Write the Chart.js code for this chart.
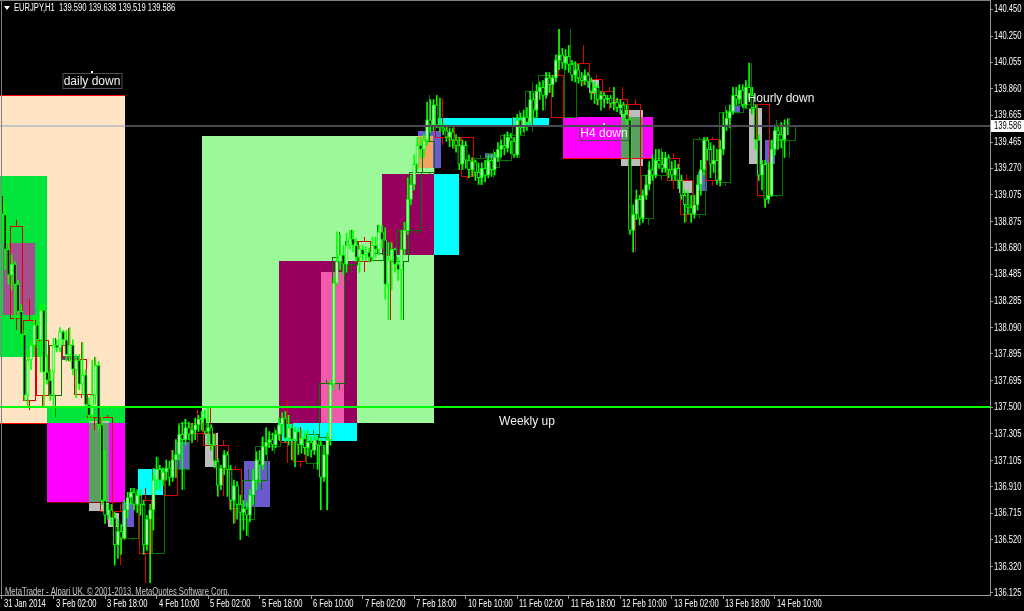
<!DOCTYPE html>
<html>
<head>
<meta charset="utf-8">
<title>EURJPY,H1</title>
<script src="https://cdn.jsdelivr.net/npm/chart.js@4.4.0/dist/chart.umd.min.js"></script>
<style>
  html, body { margin: 0; padding: 0; background: #000; }
  #wrap { width: 1024px; height: 611px; position: relative; }
</style>
</head>
<body>
<div id="wrap"><canvas id="chart"></canvas></div>
<script>
// EURJPY H1 bars, bar 0 = 31 Jan 2014
const opens = [
  139.07,138.93,138.67,138.48,138.56,138.41,138.21,138.04,137.59,137.85,
  137.96,138.11,138.00,138.22,137.76,137.70,137.76,137.96,137.94,138.06,
  138.00,137.89,137.96,137.78,137.85,137.67,137.74,137.52,137.44,137.59,
  137.81,137.37,136.81,136.70,136.74,136.68,136.48,136.58,136.53,136.74,
  136.83,136.87,136.78,136.85,136.78,136.48,136.67,136.74,136.96,137.04,
  136.96,137.02,137.05,136.98,137.11,137.15,137.30,137.26,137.35,137.30,
  137.33,137.37,137.41,137.42,137.32,137.35,137.22,137.10,136.92,137.05,
  137.15,137.04,136.81,136.92,136.78,136.72,136.75,136.70,136.85,136.96,
  137.11,137.07,137.21,137.24,137.26,137.22,137.30,137.37,137.42,137.27,
  137.35,137.26,137.32,137.22,137.27,137.20,137.24,137.18,137.26,137.22,
  136.98,137.15,137.26,137.67,138.42,138.58,138.63,138.56,138.70,138.75,
  138.70,138.61,138.67,138.63,138.65,138.61,138.70,138.67,138.80,138.74,
  138.41,138.59,138.67,138.56,138.52,138.67,138.81,139.04,139.15,139.30,
  139.44,139.41,139.48,139.63,139.59,139.74,139.59,139.57,139.55,139.50,
  139.54,139.48,139.44,139.30,139.44,139.33,139.26,139.32,139.24,139.20,
  139.27,139.22,139.33,139.26,139.35,139.41,139.44,139.42,139.50,139.47,
  139.37,139.63,139.57,139.65,139.61,139.78,139.70,139.84,139.87,139.81,
  139.94,139.89,139.94,140.07,140.11,140.05,140.10,140.04,139.96,140.00,
  139.94,139.92,139.96,139.91,139.84,139.87,139.78,139.81,139.78,139.79,
  139.75,139.76,139.72,139.74,139.67,139.63,138.81,138.93,139.04,138.90,
  139.07,139.15,139.26,139.22,139.33,139.30,139.27,139.35,139.26,139.22,
  139.27,139.18,139.07,139.00,138.98,138.93,139.00,139.15,139.26,139.48,
  139.41,139.30,139.33,139.18,139.41,139.59,139.64,139.69,139.81,139.78,
  139.85,139.74,139.87,139.81,139.72,139.48,139.22,139.30,139.04,139.07,
  139.41,139.55,139.52,139.48,139.590
];
const highs = [
  139.12,139.00,138.74,138.63,138.58,138.44,138.26,138.07,137.92,138.00,
  138.18,138.16,138.26,138.26,137.89,137.78,138.01,138.00,138.09,138.07,
  138.07,138.09,138.00,137.89,137.89,137.98,137.78,137.57,137.85,137.87,
  137.84,137.44,137.18,136.78,136.78,136.72,136.67,136.63,136.81,136.87,
  136.90,136.90,136.89,136.89,136.81,136.70,136.78,137.00,137.13,137.07,
  137.05,137.11,137.10,137.18,137.26,137.37,137.39,137.41,137.39,137.38,
  137.42,137.44,137.47,137.48,137.50,137.37,137.30,137.12,137.07,137.18,
  137.17,137.07,136.96,136.95,136.85,136.81,136.80,136.89,137.04,137.17,
  137.18,137.28,137.35,137.32,137.31,137.33,137.42,137.46,137.47,137.44,
  137.37,137.35,137.35,137.33,137.32,137.33,137.28,137.30,137.28,137.26,
  137.22,137.31,137.70,138.46,138.80,138.78,138.70,138.79,138.81,138.81,
  138.75,138.70,138.70,138.69,138.68,138.76,138.76,138.85,138.85,138.83,
  138.72,138.72,138.68,138.61,138.81,138.87,139.20,139.22,139.37,139.50,
  139.50,139.52,139.76,139.78,139.78,139.81,139.79,139.61,139.59,139.57,
  139.57,139.52,139.50,139.48,139.47,139.37,139.35,139.33,139.31,139.31,
  139.33,139.37,139.37,139.39,139.46,139.48,139.52,139.54,139.53,139.50,
  139.67,139.68,139.70,139.72,139.84,139.83,139.89,139.91,139.92,139.98,
  139.98,139.96,140.11,140.30,140.16,140.15,140.18,140.07,140.06,140.04,
  139.98,140.00,139.98,139.94,139.91,139.89,139.84,139.83,139.81,139.81,
  139.87,139.79,139.78,139.76,139.74,139.65,139.00,139.11,139.07,139.11,
  139.22,139.32,139.37,139.41,139.41,139.39,139.39,139.37,139.32,139.33,
  139.30,139.22,139.11,139.10,139.07,139.07,139.22,139.33,139.50,139.50,
  139.46,139.44,139.41,139.48,139.68,139.70,139.74,139.87,139.87,139.89,
  139.89,139.92,140.05,139.87,139.74,139.52,139.33,139.33,139.31,139.48,
  139.59,139.59,139.61,139.63,139.638
];
const lows = [
  138.74,138.52,138.41,138.37,138.15,138.16,137.96,137.55,137.50,137.78,
  137.92,137.94,137.76,137.50,137.67,137.55,137.43,137.91,137.91,137.96,
  137.84,137.84,137.74,137.57,137.63,137.59,137.48,137.39,137.41,137.52,
  137.33,136.78,136.64,136.67,136.63,136.33,136.38,136.41,136.52,136.68,
  136.78,136.74,136.72,136.70,136.41,136.44,136.20,136.59,136.89,136.89,
  136.92,136.96,136.92,136.95,136.98,137.11,136.89,137.22,137.26,137.24,
  137.26,137.32,137.33,137.30,137.22,137.18,137.05,136.84,136.89,137.00,
  136.84,136.74,136.64,136.67,136.52,136.59,136.55,136.65,136.78,136.89,
  136.94,137.04,137.15,137.20,137.18,137.20,137.26,137.30,137.24,137.22,
  137.11,137.06,137.15,137.16,137.15,137.14,137.13,137.15,137.04,136.74,
  136.95,136.74,137.22,137.63,138.41,138.52,138.48,138.50,138.67,138.65,
  138.58,138.50,138.58,138.59,138.58,138.58,138.61,138.63,138.68,138.30,
  138.15,138.37,138.50,138.44,138.15,138.63,138.78,139.00,139.11,139.26,
  139.35,139.35,139.44,139.54,139.55,139.57,139.54,139.52,139.47,139.43,
  139.42,139.39,139.26,139.26,139.27,139.20,139.21,139.18,139.15,139.15,
  139.17,139.20,139.21,139.22,139.32,139.35,139.37,139.39,139.38,139.35,
  139.35,139.52,139.54,139.55,139.59,139.64,139.65,139.78,139.70,139.79,
  139.83,139.80,139.91,140.00,140.01,140.00,139.98,139.92,139.91,139.90,
  139.88,139.89,139.87,139.78,139.75,139.74,139.70,139.72,139.75,139.72,
  139.70,139.69,139.67,139.63,139.59,138.78,138.65,138.89,138.85,138.87,
  139.04,139.11,139.18,139.20,139.27,139.24,139.24,139.20,139.18,139.18,
  139.12,139.04,138.87,138.93,138.87,138.90,138.96,139.07,139.22,139.33,
  139.20,139.24,139.15,139.14,139.37,139.55,139.57,139.67,139.74,139.75,
  139.72,139.72,139.78,139.67,139.41,139.18,139.11,138.98,139.01,139.06,
  139.37,139.41,139.42,139.35,139.519
];
const closes = [
  138.93,138.67,138.48,138.56,138.41,138.21,138.04,137.59,137.85,137.96,
  138.11,138.00,138.22,137.76,137.70,137.59,137.96,137.94,138.06,138.00,
  137.89,137.96,137.78,137.85,137.67,137.74,137.52,137.44,137.59,137.81,
  137.37,136.81,136.70,136.74,136.68,136.48,136.58,136.53,136.74,136.83,
  136.87,136.78,136.85,136.78,136.48,136.67,136.74,136.96,137.04,136.96,
  137.02,137.05,136.98,137.11,137.15,137.30,137.26,137.35,137.30,137.33,
  137.37,137.41,137.42,137.32,137.35,137.22,137.10,136.92,137.05,137.15,
  137.04,136.81,136.92,136.78,136.72,136.75,136.70,136.85,136.96,137.11,
  137.07,137.21,137.24,137.26,137.22,137.30,137.37,137.42,137.27,137.35,
  137.26,137.32,137.22,137.27,137.20,137.24,137.18,137.26,137.22,136.98,
  137.15,137.26,137.67,138.42,138.58,138.63,138.56,138.70,138.75,138.70,
  138.61,138.67,138.63,138.65,138.61,138.70,138.67,138.80,138.74,138.41,
  138.59,138.67,138.56,138.52,138.67,138.81,139.04,139.15,139.30,139.44,
  139.41,139.48,139.63,139.59,139.74,139.59,139.57,139.55,139.50,139.54,
  139.48,139.44,139.30,139.44,139.33,139.26,139.32,139.24,139.20,139.27,
  139.22,139.33,139.26,139.35,139.41,139.44,139.42,139.50,139.47,139.37,
  139.63,139.57,139.65,139.61,139.78,139.70,139.84,139.87,139.81,139.94,
  139.89,139.94,140.07,140.11,140.05,140.10,140.04,139.96,140.00,139.94,
  139.92,139.96,139.91,139.84,139.87,139.78,139.81,139.78,139.79,139.75,
  139.76,139.72,139.74,139.67,139.63,138.81,138.93,139.04,138.90,139.07,
  139.15,139.26,139.22,139.33,139.30,139.27,139.35,139.26,139.22,139.27,
  139.18,139.07,139.00,138.98,138.93,139.00,139.15,139.26,139.48,139.41,
  139.30,139.33,139.18,139.41,139.59,139.64,139.69,139.81,139.78,139.85,
  139.74,139.87,139.81,139.72,139.48,139.22,139.30,139.04,139.07,139.41,
  139.55,139.52,139.48,139.58,139.586
];

// H4 candles, drawn as outline boxes over 4 H1 bars
const h4Start = [3,7,11,15,19,23,27,31,35,39,43,47,51,55,59,63,67,71,75,79,83,87,91,95,99,103,107,111,115,119,123,127,131,135,139,143,147,151,155,159,163,167,171,175,179,183,187,191,195,199,203,207,211,215,219,223,227,231,235,239,243];
const h4Open  = [138.84,138.15,138.00,137.59,137.96,137.86,137.60,137.43,136.73,136.53,136.81,136.42,137.05,137.04,137.38,137.31,137.22,137.04,136.67,136.96,137.21,137.38,137.24,137.09,137.28,137.68,138.56,138.73,138.59,138.63,138.58,138.81,139.24,139.58,139.50,139.50,139.22,139.28,139.33,139.52,139.65,139.84,139.96,139.65,140.05,139.93,139.84,139.78,139.75,138.90,139.22,139.35,139.18,138.93,139.49,139.17,139.69,139.72,139.75,139.07,139.48];
const h4High  = [138.89,138.30,138.07,138.01,138.09,137.98,137.87,137.44,136.78,136.90,136.90,137.13,137.18,137.41,137.48,137.50,137.26,137.07,137.04,137.28,137.35,137.55,137.35,137.33,137.70,138.80,138.81,138.76,138.85,138.83,138.87,139.37,139.81,139.79,139.59,139.50,139.37,139.41,139.54,139.70,139.91,139.98,140.30,140.30,140.18,139.96,139.87,139.87,139.78,139.30,139.42,139.38,139.22,139.50,139.50,139.74,139.89,140.05,139.75,139.63,139.64];
const h4Low   = [138.07,137.48,137.50,137.43,137.84,137.57,137.33,136.64,136.33,136.52,136.20,136.42,136.85,136.89,137.24,137.18,136.84,136.64,136.54,136.89,137.15,137.09,137.06,137.04,136.74,137.63,138.50,138.50,138.58,138.15,138.15,138.78,139.22,139.44,139.41,139.18,139.15,139.20,139.32,139.35,139.54,139.70,139.65,139.65,139.89,139.74,139.70,139.67,138.65,138.85,139.18,139.12,138.87,138.90,139.14,139.14,139.67,139.67,138.98,139.06,139.35];
const h4Close = [138.16,137.55,137.59,137.96,137.87,137.60,137.43,136.73,136.53,136.80,136.42,137.05,136.85,137.38,137.31,137.22,137.04,136.75,136.96,137.21,137.30,137.24,137.10,137.30,137.68,138.61,138.73,138.58,138.64,138.58,138.81,139.24,139.47,139.50,139.48,139.21,139.35,139.38,139.52,139.65,139.84,139.96,139.65,140.05,139.94,139.83,139.76,139.75,138.90,139.22,139.35,139.18,138.93,139.49,139.18,139.69,139.74,139.75,139.07,139.48,139.59];

// supply / demand zones (bar index range, price range)
const zoneFrom   = [-2, -2, 0.3, 14.0, 14.0, 27.0, 27.0, 18.3, 37.3, 32.9, 42.2, 54.3, 62.1, 63.0, 75.2, 86.0, 99.1, 86.0, 118.0, 134.2, 129.2, 129.2, 134.2, 150.0, 174.2, 192.2, 192.2, 182.3, 210.2, 216.1, 226.4, 232.0, 236.9];
const zoneTo     = [38.2, 14.0, 10.25, 38.2, 38.2, 33.2, 33.2, 24.2, 41.0, 36.3, 50.0, 58.1, 134.2, 67.1, 83.2, 110.2, 106.2, 110.2, 134.2, 141.9, 136.3, 133.9, 169.9, 154.3, 202.2, 199.1, 199.1, 185.4, 214.9, 218.9, 229.2, 236.0, 240.1];
const zoneTop    = [139.81, 139.21, 138.72, 137.51, 137.38, 137.40, 137.38, 137.88, 136.80, 136.72, 137.04, 137.24, 139.51, 137.31, 137.10, 138.58, 138.50, 137.38, 139.23, 139.23, 139.55, 139.51, 139.64, 139.38, 139.65, 139.70, 139.65, 139.93, 139.18, 139.24, 139.74, 139.72, 139.48];
const zoneBottom = [137.38, 137.87, 138.18, 137.38, 136.80, 136.73, 136.80, 137.85, 136.61, 136.61, 136.85, 137.04, 137.38, 137.06, 136.76, 137.38, 137.38, 137.25, 138.63, 138.63, 139.27, 139.27, 139.58, 139.35, 139.35, 139.29, 139.35, 139.83, 139.09, 139.10, 139.69, 139.30, 139.30];
const zoneColors = ['#ffe4c4', '#00e43c', '#a4508f', '#00e43c', '#ff00ff', '#bdbdbd', '#5c9e62', '#50508a', '#6a5acd', '#bdbdbd', '#00ffff', '#6a5acd', '#9cf99a', '#bdbdbd', '#6a5acd', '#98005f', '#f05aaa', '#00ffff', '#98005f', '#00ffff', '#6a5acd', '#f4a460', '#00ffff', '#6a5acd', '#ff00ff', '#bdbdbd', '#5c9e62', '#bdbdbd', '#bdbdbd', '#6a5acd', '#6a5acd', '#bdbdbd', '#6a5acd'];

// zone edge lines
const edgeFrom  = [-2, -2, 14.0, 174.2];
const edgeTo    = [38.2, 14.0, 38.2, 202.2];
const edgePrice = [139.81, 137.38, 136.80, 139.35];
const edgeColors = ['#ff0000', '#ff0000', '#8b0000', '#ff0000'];

const weeklyLevel = 137.50;

const labelTexts = ['daily down', 'Weekly up', 'H4 down', 'Hourly down'];
const labelBar   = [28, 163, 187, 242];
const labelPrice = [139.92, 137.40, 139.53, 139.79];
const labelBoxed = [true, false, true, false];

const priceTicks = [140.450, 140.250, 140.055, 139.860, 139.665, 139.465, 139.270, 139.075, 138.875, 138.680, 138.485, 138.285, 138.090, 137.895, 137.695, 137.500, 137.305, 137.105, 136.910, 136.715, 136.520, 136.320, 136.125];
const timeTickBars = [0, 16, 32, 48, 64, 80, 96, 112, 128, 144, 160, 176, 192, 208, 224, 240];
const timeTickLabels = ['31 Jan 2014', '3 Feb 02:00', '3 Feb 18:00', '4 Feb 10:00', '5 Feb 02:00', '5 Feb 18:00', '6 Feb 10:00', '7 Feb 02:00', '7 Feb 18:00', '10 Feb 10:00', '11 Feb 02:00', '11 Feb 18:00', '12 Feb 10:00', '13 Feb 02:00', '13 Feb 18:00', '14 Feb 10:00'];

const UI_FONT = "10px 'Liberation Sans', Arial, sans-serif";
const SQUEEZE = 0.76;   // terminal font is much narrower than Liberation Sans
const AXIS_GREY = '#9a9a9a';
const last = closes.length - 1;

const bodies = opens.map((o, i) => ({ x: i, y: [o, closes[i]] }));
const wicks = lows.map((l, i) => ({ x: i, y: [l, highs[i]] }));

function narrowText(ctx, text, px, py, color) {
    ctx.save();
    ctx.translate(px, py);
    ctx.scale(SQUEEZE, 1);
    ctx.font = UI_FONT;
    ctx.textAlign = 'left';
    ctx.textBaseline = 'middle';
    ctx.fillStyle = color;
    ctx.fillText(text, 0, 0);
    ctx.restore();
}

function clipArea(ctx, area) {
    ctx.beginPath();
    ctx.rect(area.left, area.top, area.right - area.left, area.bottom - area.top);
    ctx.clip();
}

const mtObjects = {
    id: 'mtObjects',
    beforeDatasetsDraw(chart) {
        const { ctx, chartArea: area, scales: { x, y } } = chart;
        ctx.save();
        clipArea(ctx, area);

        for (let k = 0; k < zoneFrom.length; k++) {
            const l = Math.round(x.getPixelForValue(zoneFrom[k]));
            const r = Math.round(x.getPixelForValue(zoneTo[k]));
            const t = Math.round(y.getPixelForValue(zoneTop[k]));
            const b = Math.round(y.getPixelForValue(zoneBottom[k]));
            ctx.fillStyle = zoneColors[k];
            ctx.fillRect(l, t, r - l, b - t);
        }

        ctx.lineWidth = 1;
        for (let k = 0; k < edgeFrom.length; k++) {
            const py = Math.round(y.getPixelForValue(edgePrice[k])) + 0.5;
            ctx.strokeStyle = edgeColors[k];
            ctx.beginPath();
            ctx.moveTo(Math.round(x.getPixelForValue(edgeFrom[k])), py);
            ctx.lineTo(Math.round(x.getPixelForValue(edgeTo[k])), py);
            ctx.stroke();
        }

        // higher timeframe candles
        for (let k = 0; k < h4Start.length; k++) {
            const up = h4Close[k] >= h4Open[k];
            ctx.strokeStyle = up ? '#007800' : '#e00000';
            const l = Math.round(x.getPixelForValue(h4Start[k] - 0.5)) + 0.5;
            const r = Math.round(x.getPixelForValue(h4Start[k] + 3.5)) - 0.5;
            const t = Math.round(y.getPixelForValue(Math.max(h4Open[k], h4Close[k]))) + 0.5;
            const b = Math.round(y.getPixelForValue(Math.min(h4Open[k], h4Close[k]))) + 0.5;
            const cx = Math.round(x.getPixelForValue(h4Start[k] + 1.5)) + 0.5;
            ctx.beginPath();
            ctx.moveTo(cx, Math.round(y.getPixelForValue(h4High[k])));
            ctx.lineTo(cx, t);
            ctx.moveTo(cx, b);
            ctx.lineTo(cx, Math.round(y.getPixelForValue(h4Low[k])));
            ctx.stroke();
            ctx.strokeRect(l, t, r - l, b - t);
        }
        ctx.restore();
    },
    afterDatasetsDraw(chart) {
        const { ctx, chartArea: area, scales: { x, y } } = chart;
        ctx.save();
        clipArea(ctx, area);

        // weekly level
        ctx.strokeStyle = '#00ff00';
        ctx.lineWidth = 2;
        let py = Math.round(y.getPixelForValue(weeklyLevel));
        ctx.beginPath();
        ctx.moveTo(area.left, py);
        ctx.lineTo(area.right, py);
        ctx.stroke();

        // bid line
        py = Math.round(y.getPixelForValue(closes[last]));
        ctx.strokeStyle = '#4a4a52';
        ctx.beginPath();
        ctx.moveTo(area.left, py);
        ctx.lineTo(area.right, py);
        ctx.stroke();
        ctx.strokeStyle = '#c4c4c4';
        ctx.beginPath();
        ctx.moveTo(area.left, py);
        ctx.lineTo(Math.round(x.getPixelForValue(zoneTo[0])), py);
        ctx.stroke();

        // text objects
        ctx.font = "12px 'Liberation Sans', Arial, sans-serif";
        ctx.textAlign = 'center';
        ctx.textBaseline = 'middle';
        ctx.lineWidth = 1;
        for (let k = 0; k < labelTexts.length; k++) {
            const px = Math.round(x.getPixelForValue(labelBar[k]));
            const ty = Math.round(y.getPixelForValue(labelPrice[k]));
            if (labelBoxed[k]) {
                const w = Math.round(ctx.measureText(labelTexts[k]).width) + 2;
                ctx.strokeStyle = '#4b535c';
                ctx.strokeRect(px - w / 2 + 0.5, ty - 7.5, w, 15);
                ctx.fillStyle = '#ffffff';
                ctx.fillRect(px - 1, ty - 10, 2, 2);
            }
            ctx.fillStyle = '#f2f2f2';
            ctx.fillText(labelTexts[k], px, ty + 1);
        }
        ctx.restore();
    },
    afterDraw(chart) {
        const { ctx, chartArea: area, scales: { x, y } } = chart;
        ctx.save();
        // frame
        ctx.strokeStyle = '#808080';
        ctx.lineWidth = 1;
        ctx.beginPath();
        ctx.moveTo(area.left, 0.5);
        ctx.lineTo(area.right, 0.5);
        ctx.moveTo(1.5, 0);
        ctx.lineTo(1.5, area.bottom);
        ctx.stroke();

        // axis labels, placed on the scales' own ticks
        y.ticks.forEach(t => narrowText(ctx, t.value.toFixed(3), area.right + 4, Math.round(y.getPixelForValue(t.value)), '#ffffff'));
        x.ticks.forEach((t, i) => narrowText(ctx, timeTickLabels[i], Math.round(x.getPixelForValue(t.value)) + 2, area.bottom + 9, '#ffffff'));

        // symbol header
        ctx.fillStyle = '#ffffff';
        ctx.beginPath();
        ctx.moveTo(4, 6);
        ctx.lineTo(10, 6);
        ctx.lineTo(7, 10);
        ctx.closePath();
        ctx.fill();
        const head = 'EURJPY,H1  ' + [opens[last], highs[last], lows[last], closes[last]].map(v => v.toFixed(3)).join(' ');
        narrowText(ctx, head, 14, 8, '#ffffff');

        ctx.save();
        clipArea(ctx, area);
        narrowText(ctx, 'MetaTrader - Alpari UK, \u00a9 2001-2013, MetaQuotes Software Corp.', 5, area.bottom - 3, '#c8c8c8');
        ctx.restore();

        // bid price tag
        const py = Math.round(y.getPixelForValue(closes[last]));
        ctx.fillStyle = '#ffffff';
        ctx.fillRect(area.right + 1, py - 6, 34, 12);
        narrowText(ctx, closes[last].toFixed(3), area.right + 4, py, '#000000');
        ctx.restore();
    }
};

new Chart(document.getElementById('chart'), {
    type: 'bar',
    data: {
        datasets: [
            {
                data: bodies,
                grouped: false,
                barThickness: 3,
                borderWidth: 1,
                borderSkipped: false,
                borderColor: '#00ff00',
                backgroundColor: ctx => (closes[ctx.dataIndex] >= opens[ctx.dataIndex] ? '#c0ffc0' : '#000000'),
                order: 1
            },
            {
                data: wicks,
                grouped: false,
                barThickness: 1,
                borderWidth: 0,
                backgroundColor: '#00ff00',
                order: 2
            }
        ]
    },
    options: {
        responsive: true,
        maintainAspectRatio: false,
        animation: false,
        events: [],
        layout: { padding: 0 },
        plugins: { legend: { display: false }, tooltip: { enabled: false } },
        scales: {
            x: {
                type: 'linear',
                min: -0.62,
                max: 306.8,
                offset: false,
                afterBuildTicks: s => { s.ticks = timeTickBars.map(v => ({ value: v })); },
                afterFit: s => { s.height = 16; s.paddingLeft = 0; s.paddingRight = 0; },
                ticks: { display: false },
                grid: { offset: false, drawOnChartArea: false, drawTicks: true, tickLength: 4, color: AXIS_GREY },
                border: { display: true, color: AXIS_GREY }
            },
            y: {
                position: 'right',
                min: 136.109,
                max: 140.517,
                beginAtZero: false,
                afterBuildTicks: s => { s.ticks = priceTicks.map(v => ({ value: v })); },
                afterFit: s => { s.width = 34; s.paddingTop = 0; s.paddingBottom = 0; },
                ticks: { display: false },
                grid: { drawOnChartArea: false, drawTicks: true, tickLength: 3, color: AXIS_GREY },
                border: { display: true, color: AXIS_GREY }
            }
        }
    },
    plugins: [mtObjects]
});
</script>
</body>
</html>
